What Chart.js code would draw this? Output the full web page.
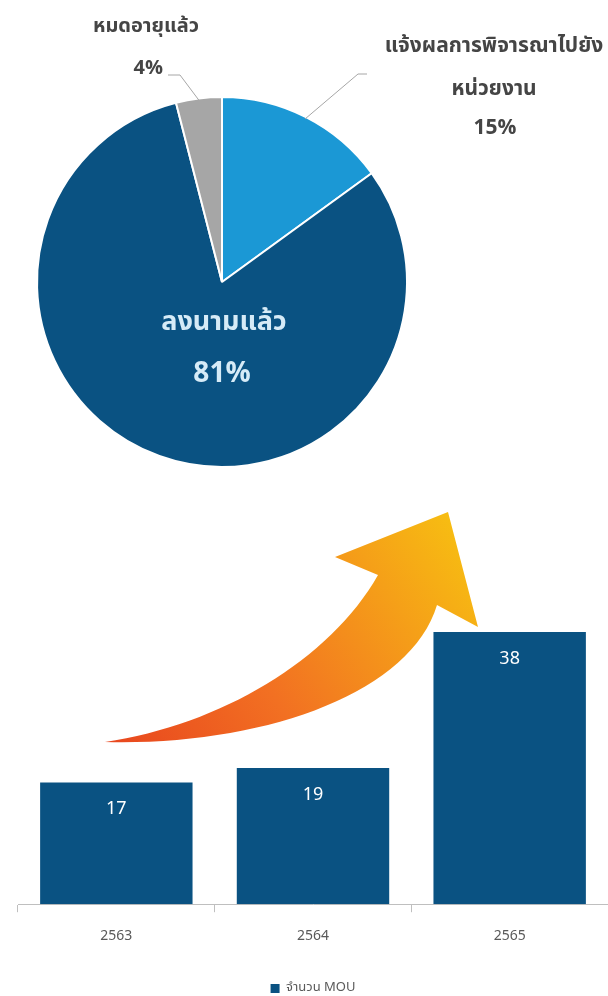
<!DOCTYPE html>
<html>
<head>
<meta charset="utf-8">
<script src="https://cdn.jsdelivr.net/npm/chart.js@4.4.1/dist/chart.umd.min.js"></script>
<style>
  html, body { margin: 0; padding: 0; background: #fff; overflow: hidden; }
  #wrap { position: relative; width: 608px; height: 996px; overflow: hidden; }
  #pie { position: absolute; left: 0; top: 0; }
  #bar { position: absolute; left: 0; top: 480px; }
</style>
</head>
<body>
<div id="wrap">
  <canvas id="pie" width="608" height="480"></canvas>
  <canvas id="bar" width="608" height="525"></canvas>
</div>
<script>
// ข้อมูลกราฟวงกลม สถานะ MOU
const pieLabels = ['แจ้งผลการพิจารณาไปยังหน่วยงาน', 'ลงนามแล้ว', 'หมดอายุแล้ว'];
const pieLines = [['แจ้งผลการพิจารณาไปยัง', 'หน่วยงาน'], ['ลงนามแล้ว'], ['หมดอายุแล้ว']];
const pieValues = [15, 81, 4];
const pieColors = ['#1b98d5', '#0a5282', '#a6a6a6'];

// ข้อมูลกราฟแท่ง จำนวน MOU ต่อปี
const years = ['2563', '2564', '2565'];
const mouCounts = [17, 19, 38];
const barLabel = 'จำนวน MOU';

const thaiFont = "'Noto Sans Thai', 'Loma', 'Garuda', 'Tahoma', 'Noto Sans', sans-serif";

// ป้ายกำกับของกราฟวงกลม
const pieLabelPlugin = {
  id: 'pieLabels',
  afterDatasetsDraw(chart) {
    const ctx = chart.ctx;
    const arcs = chart.getDatasetMeta(0).data;
    ctx.save();
    ctx.textAlign = 'center';
    ctx.textBaseline = 'middle';

    // แจ้งผล... (ชิ้นสีฟ้า)
    let a = arcs[0].getProps(['x', 'y', 'startAngle', 'endAngle', 'outerRadius']);
    let mid = (a.startAngle + a.endAngle) / 2;
    let ex = a.x + Math.cos(mid) * (a.outerRadius - 2), ey = a.y + Math.sin(mid) * (a.outerRadius - 2);
    ctx.strokeStyle = '#a6a6a6';
    ctx.lineWidth = 1;
    ctx.beginPath();
    ctx.moveTo(ex, ey);
    ctx.lineTo(358, 74);
    ctx.lineTo(367, 74);
    ctx.stroke();
    ctx.fillStyle = '#454545';
    ctx.font = 'bold 21px ' + thaiFont;
    ctx.fillText(pieLines[0][0], 494, 48);
    ctx.fillText(pieLines[0][1], 494, 91);
    ctx.fillText(pieValues[0] + '%', 495, 130);

    // หมดอายุแล้ว (ชิ้นสีเทา)
    a = arcs[2].getProps(['x', 'y', 'startAngle', 'endAngle', 'outerRadius']);
    mid = (a.startAngle + a.endAngle) / 2;
    ex = a.x + Math.cos(mid) * (a.outerRadius - 2); ey = a.y + Math.sin(mid) * (a.outerRadius - 2);
    ctx.beginPath();
    ctx.moveTo(ex, ey);
    ctx.lineTo(180, 75);
    ctx.lineTo(168, 75);
    ctx.stroke();
    ctx.font = 'bold 20px ' + thaiFont;
    ctx.fillText(pieLines[2][0], 146, 28);
    ctx.textAlign = 'right';
    ctx.fillText(pieValues[2] + '%', 163, 70);

    // ลงนามแล้ว (ในชิ้นสีน้ำเงิน)
    a = arcs[1].getProps(['x', 'y']);
    ctx.textAlign = 'center';
    ctx.fillStyle = '#d6ebf7';
    ctx.font = 'bold 27px ' + thaiFont;
    ctx.fillText(pieLines[1][0], a.x + 2, a.y + 43);
    ctx.font = 'bold 28px ' + thaiFont;
    ctx.fillText(pieValues[1] + '%', a.x, a.y + 94);
    ctx.restore();
  }
};

new Chart(document.getElementById('pie'), {
  type: 'pie',
  data: {
    labels: pieLabels,
    datasets: [{ data: pieValues, backgroundColor: pieColors, borderColor: '#ffffff', borderWidth: 2 }]
  },
  options: {
    responsive: false,
    animation: false,
    layout: { padding: { left: 36, right: 200, top: 96, bottom: 12 } },
    plugins: { legend: { display: false }, tooltip: { enabled: false } }
  },
  plugins: [pieLabelPlugin]
});

// ลูกศรสีส้มและตัวเลขบนแท่ง
const barExtrasPlugin = {
  id: 'barExtras',
  beforeDatasetsDraw(chart) {
    const ctx = chart.ctx;
    ctx.save();
    const g = ctx.createLinearGradient(105, 262, 448, 32);
    g.addColorStop(0, '#e8461e');
    g.addColorStop(0.4, '#f27022');
    g.addColorStop(1, '#f7bd12');
    ctx.fillStyle = g;
    ctx.beginPath();
    ctx.moveTo(105, 262);
    ctx.bezierCurveTo(220, 245, 330, 180, 378, 95);
    ctx.lineTo(335, 77);
    ctx.lineTo(448, 32);
    ctx.lineTo(478, 147);
    ctx.lineTo(437, 125);
    ctx.bezierCurveTo(410, 215, 260, 266, 105, 262);
    ctx.closePath();
    ctx.fill();
    ctx.restore();
  },
  afterDatasetsDraw(chart) {
    const ctx = chart.ctx;
    const bars = chart.getDatasetMeta(0).data;
    ctx.save();
    ctx.fillStyle = '#ffffff';
    ctx.textAlign = 'center';
    ctx.textBaseline = 'middle';
    ctx.font = '18px ' + thaiFont;
    bars.forEach((b, i) => {
      ctx.fillText(String(mouCounts[i]), b.x, b.y + 28);
    });
    ctx.restore();
  }
};

new Chart(document.getElementById('bar'), {
  type: 'bar',
  data: {
    labels: years,
    datasets: [{
      label: barLabel,
      data: mouCounts,
      backgroundColor: '#0a5282',
      categoryPercentage: 1,
      barPercentage: 0.775
    }]
  },
  options: {
    responsive: false,
    animation: false,
    layout: { padding: { left: 18, right: 0, top: 66, bottom: 0 } },
    scales: {
      x: {
        grid: { display: true, drawOnChartArea: false, drawTicks: true, tickLength: 8, color: '#bfbfbf' },
        border: { display: true, color: '#bfbfbf' },
        ticks: { color: '#595959', padding: 17, font: { size: 14, family: thaiFont } }
      },
      y: { display: false, min: 0, max: 50 }
    },
    plugins: {
      tooltip: { enabled: false },
      legend: {
        position: 'bottom',
        labels: { boxWidth: 9, boxHeight: 9, padding: 19, color: '#595959', font: { size: 13, family: thaiFont } }
      }
    }
  },
  plugins: [barExtrasPlugin]
});
</script>
</body>
</html>
